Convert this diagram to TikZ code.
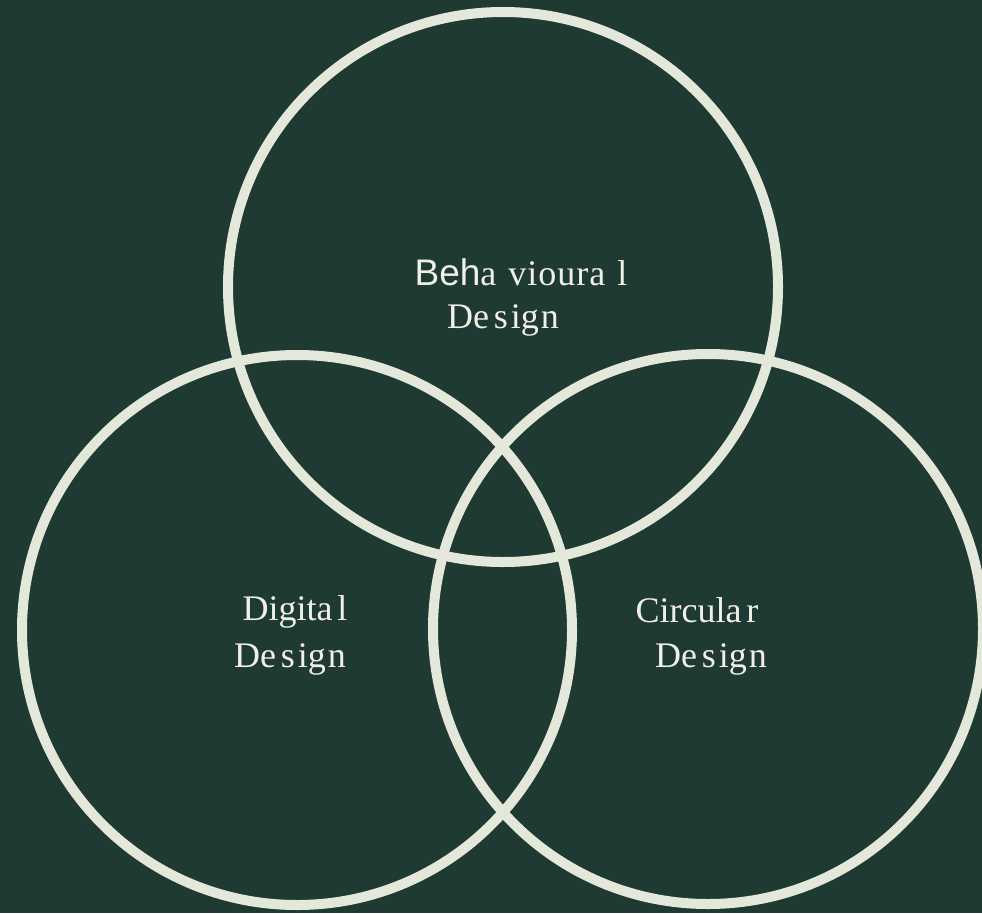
\documentclass[tikz,border=0pt]{standalone}
\usepackage{fontspec}
\setmainfont{Liberation Serif}
\newfontfamily\arialf{Liberation Sans}
\definecolor{bgc}{RGB}{31,58,51}
\definecolor{ringc}{RGB}{228,232,218}
\definecolor{txtc}{RGB}{240,240,230}
\begin{document}
\begin{tikzpicture}[x=1pt,y=-1pt,
  ring/.style={draw=ringc,line width=10pt},
  lbl/.style={text=txtc,font=\fontsize{36}{42}\selectfont,inner sep=0pt}]
\fill[bgc] (0,0) rectangle (982,913);
\useasboundingbox (0,0) rectangle (982,913);
\node[ring,circle,minimum size=550pt,inner sep=0pt] (top) at (503,287) {};
\node[ring,circle,minimum size=550pt,inner sep=0pt] (left) at (297,630) {};
\node[ring,circle,minimum size=550pt,inner sep=0pt] (right) at (708,629) {};
\node[lbl] (t1) at (521,272) {{\arialf\fontsize{37}{42}\selectfont Beh}a\kern12pt v\kern1pt i\kern1pt o\kern1pt u\kern1pt r\kern1pt a\kern12pt l};
\node[lbl] (t2) at (503,320) {De\kern5pt s\kern3pt ig\kern2pt n};
\node[lbl] (l1) at (295,612) {Digita\kern5pt l};
\node[lbl] (l2) at (290,659) {De\kern5pt s\kern3pt ig\kern2pt n};
\node[lbl] (r1) at (697,610) {Circula\kern5pt r};
\node[lbl] (r2) at (711,659) {De\kern5pt s\kern3pt ig\kern2pt n};
\end{tikzpicture}
\end{document}
